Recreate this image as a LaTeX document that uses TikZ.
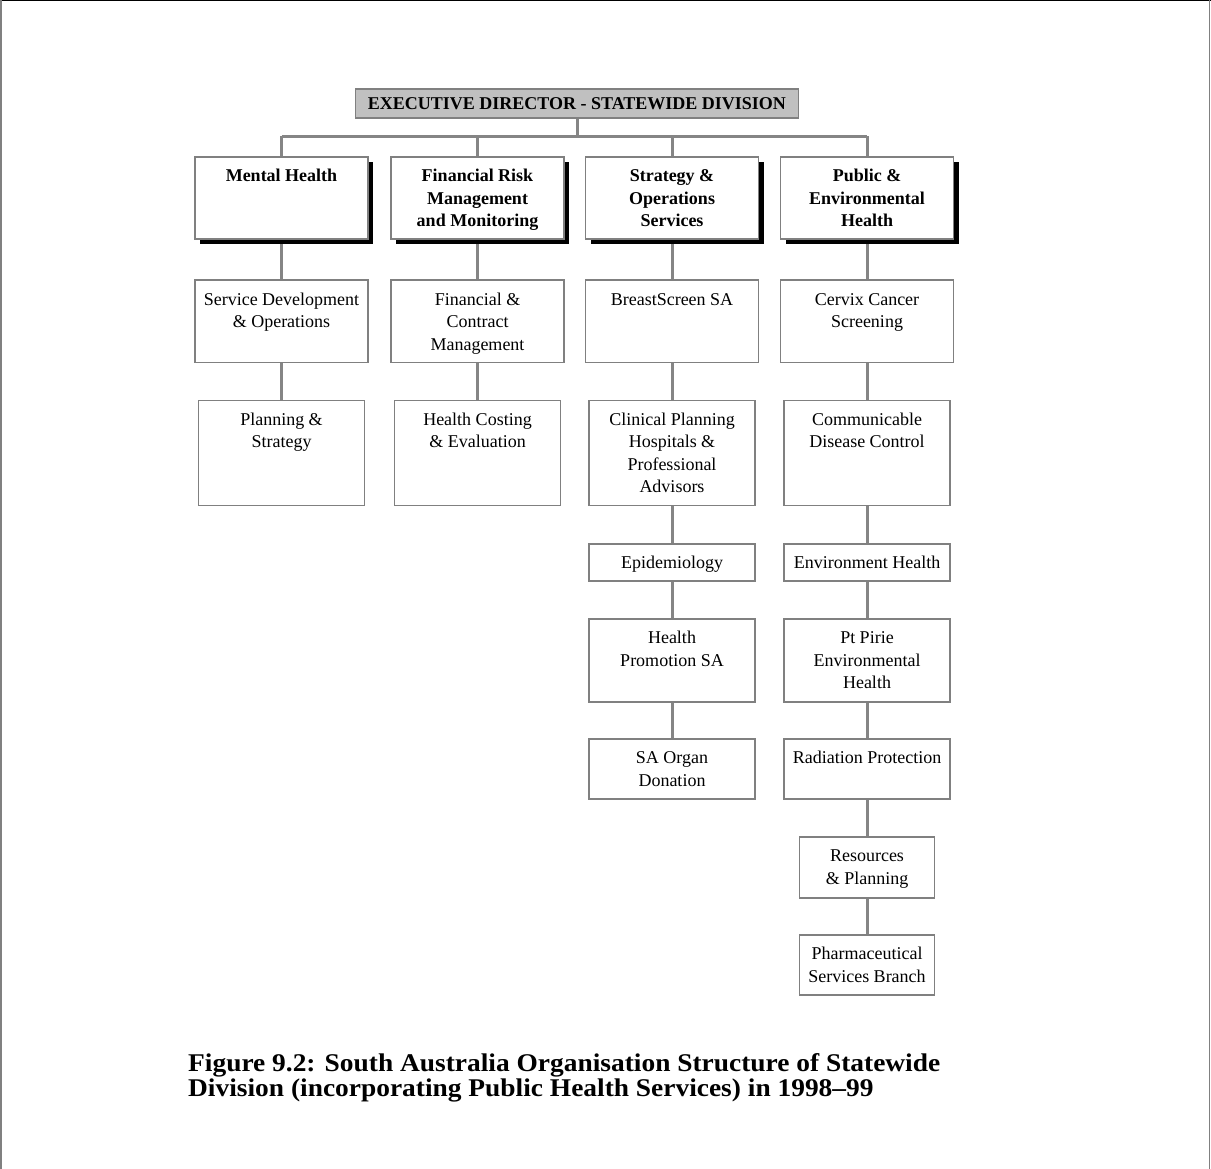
\documentclass[tikz,border=0pt]{standalone}
\usepackage{fontspec}
\setmainfont{Liberation Serif}
\newfontfamily\capfont[FakeStretch=1.075,Ligatures=TeX]{Liberation Serif}
\usetikzlibrary{shadows,backgrounds}
\definecolor{linegray}{HTML}{858585}
\definecolor{boxgray}{HTML}{808080}
\definecolor{execfill}{HTML}{C0C0C0}
\tikzset{
  orgbox/.style={draw=boxgray, line width=1.6pt, fill=white, inner sep=0pt, anchor=north,
    font=\fontsize{18}{22.5}\selectfont},
  headbox/.style={orgbox, font=\fontsize{18}{22.5}\selectfont\bfseries,
    drop shadow={shadow xshift=5pt, shadow yshift=-5pt, fill=black, opacity=1}},
  execbox/.style={draw=boxgray, line width=1.6pt, fill=execfill, inner sep=0pt,
    font=\fontsize{18}{22.5}\selectfont\bfseries},
  conn/.style={draw=linegray, line width=3pt},
  frameline/.style={line width=1.5pt},
}
\newcommand\obox[7]{%
  \node[#6] (#1) at (#2,#3) {\parbox[t][#5pt][t]{#4pt}{\centering\rule{0pt}{25pt}#7}};}
\begin{document}
\begin{tikzpicture}[x=1pt,y=-1pt]
\useasboundingbox (0,0) rectangle (1211,1169);
% frame
\draw[frameline, black] (0,0.75) -- (1211,0.75);
\draw[frameline, boxgray] (1,0) -- (1,1169);
\draw[frameline, boxgray] (1209.5,0) -- (1209.5,1169);

% executive
\node[execbox, minimum width=443pt, minimum height=29pt] (exec) at (577,103.5) {EXECUTIVE DIRECTOR - STATEWIDE DIVISION};

% level 1
\obox{mh}{281.5}{156}{173}{82}{headbox}{Mental Health}
\obox{fr}{477.5}{156}{173}{82}{headbox}{Financial Risk\\Management\\and Monitoring}
\obox{so}{672}{156}{173}{82}{headbox}{Strategy \&\\Operations\\Services}
\obox{pe}{867}{156}{173}{82}{headbox}{Public \&\\Environmental\\Health}

% level 2
\obox{sd}{281.5}{279.5}{173}{82}{orgbox}{Service Development\\\& Operations}
\obox{fc}{477.5}{279.5}{173}{82}{orgbox}{Financial \&\\Contract\\Management}
\obox{bs}{672}{279.5}{173}{82}{orgbox}{BreastScreen SA}
\obox{cc}{867}{279.5}{173}{82}{orgbox}{Cervix Cancer\\Screening}

% level 3
\obox{ps}{281.5}{399.5}{166}{105}{orgbox}{Planning \&\\Strategy}
\obox{hc}{477.5}{399.5}{166}{105}{orgbox}{Health Costing\\\& Evaluation}
\obox{cp}{672}{399.5}{166}{105}{orgbox}{Clinical Planning\\Hospitals \&\\Professional\\Advisors}
\obox{cd}{867}{399.5}{166}{105}{orgbox}{Communicable\\Disease Control}

% strategy column
\obox{ep}{672}{543}{166}{37}{orgbox}{Epidemiology}
\obox{hp}{672}{618}{166}{83}{orgbox}{Health\\Promotion SA}
\obox{od}{672}{738}{166}{60}{orgbox}{SA Organ\\Donation}

% public health column
\obox{eh}{867}{543}{166}{37}{orgbox}{Environment Health}
\obox{pp}{867}{618}{166}{83}{orgbox}{Pt Pirie\\Environmental\\Health}
\obox{rp}{867}{738}{166}{60}{orgbox}{Radiation Protection}
\obox{rs}{867}{836}{135}{61}{orgbox}{Resources\\\& Planning}
\obox{ph}{867}{934}{135}{60}{orgbox}{Pharmaceutical\\Services Branch}

% connectors
\coordinate (busL) at (281.5,136.5);
\coordinate (busR) at (867,136.5);
\coordinate (busM) at (exec.south |- busL);
\begin{scope}[on background layer]
\draw[conn] (exec.south) -- (busM);
\draw[conn] (busL) -- (busR);
\foreach \n in {mh,fr,so,pe}{\draw[conn] (\n.north |- busL) -- (\n.north);}
\foreach \a/\b in {mh/sd,sd/ps,fr/fc,fc/hc,so/bs,bs/cp,cp/ep,ep/hp,hp/od,pe/cc,cc/cd,cd/eh,eh/pp,pp/rp,rp/rs,rs/ph}{
  \draw[conn] (\a.south) -- (\b.north);}
\end{scope}

% caption
\node[anchor=base west, inner sep=0pt, align=left, font=\capfont\fontsize{25.5}{25}\selectfont\bfseries] (cap) at (188,1096)
  {Figure 9.2: South Australia Organisation Structure of Statewide\\Division (incorporating Public Health Services) in 1998–99};
\end{tikzpicture}
\end{document}
